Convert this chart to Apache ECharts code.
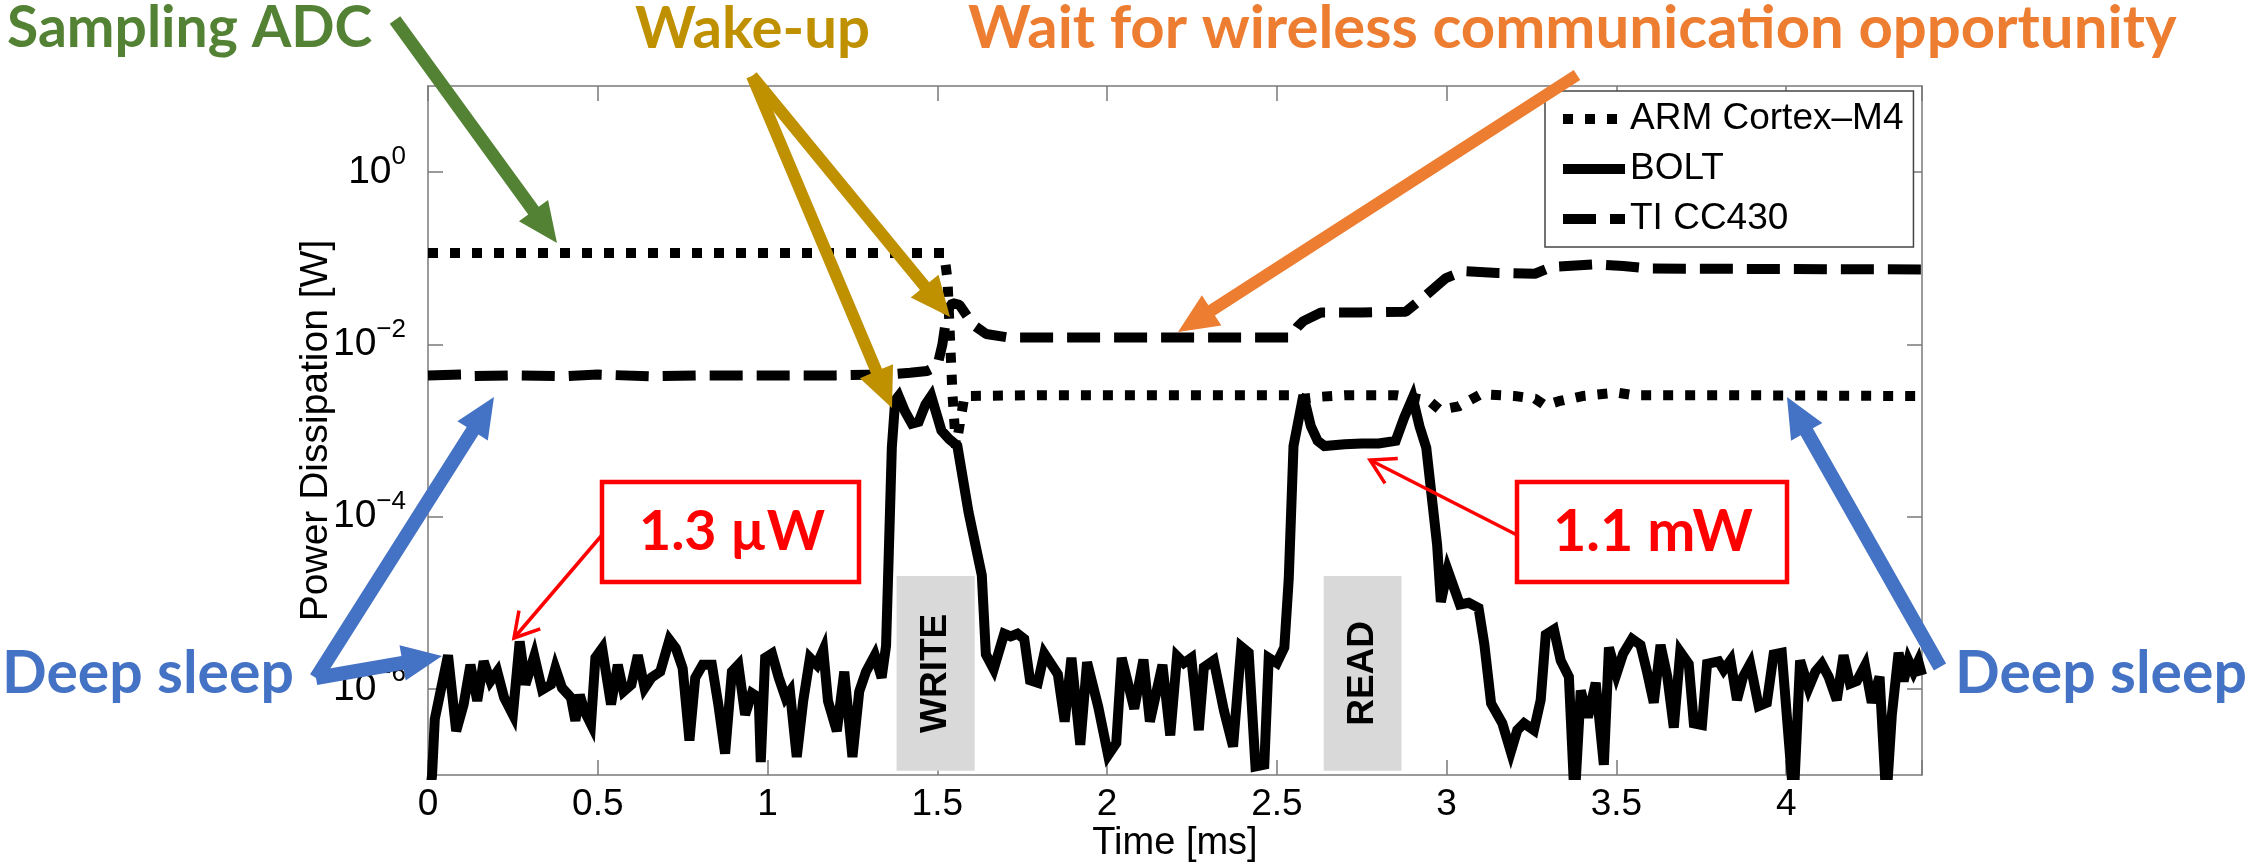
<!DOCTYPE html>
<html>
<head>
<meta charset="utf-8">
<script src="https://cdn.jsdelivr.net/npm/echarts@6/dist/echarts.min.js"></script>
<style>html,body{margin:0;padding:0;background:#fff}#c{width:2249px;height:868px}</style>
</head>
<body>
<div id="c"></div>
<script>
// ---------------- DATA (power as log10 of watts) ----------------
const seriesNames = ['ARM Cortex\u2013M4', 'BOLT', 'TI CC430'];

const armTime = [0, 1.52, 1.53, 1.537, 1.545, 1.555, 1.565, 1.58, 1.8, 2.0, 2.4, 2.55, 2.58, 2.62, 2.7, 2.85, 2.9, 2.95, 2.98, 3.036, 3.1, 3.2, 3.26, 3.29, 3.33, 3.4, 3.5, 3.55, 3.8, 4.4];
const armLog10W = [-0.94, -0.94, -1.25, -1.9, -2.6, -3.2, -2.95, -2.6, -2.59, -2.59, -2.59, -2.59, -2.63, -2.61, -2.59, -2.59, -2.62, -2.66, -2.76, -2.72, -2.58, -2.6, -2.63, -2.71, -2.66, -2.6, -2.56, -2.59, -2.59, -2.6];

const boltTime = [0.0, 0.012, 0.02, 0.039, 0.059, 0.083, 0.105, 0.125, 0.145, 0.164, 0.184, 0.204, 0.224, 0.25, 0.27, 0.287, 0.313, 0.336, 0.362, 0.375, 0.395, 0.421, 0.434, 0.447, 0.461, 0.48, 0.493, 0.513, 0.539, 0.559, 0.576, 0.599, 0.618, 0.638, 0.658, 0.684, 0.711, 0.73, 0.75, 0.77, 0.787, 0.809, 0.836, 0.855, 0.875, 0.895, 0.914, 0.934, 0.954, 0.974, 0.98, 0.993, 1.013, 1.033, 1.053, 1.066, 1.086, 1.105, 1.125, 1.145, 1.164, 1.178, 1.204, 1.226, 1.25, 1.27, 1.29, 1.316, 1.336, 1.349,
  1.358, 1.366, 1.376, 1.386, 1.405, 1.425, 1.445, 1.465, 1.482, 1.497, 1.512, 1.535, 1.559, 1.592, 1.631, 1.643, 1.666, 1.697, 1.716, 1.736, 1.756, 1.773, 1.796, 1.815, 1.855, 1.875, 1.895, 1.921, 1.941, 1.974, 2.003, 2.027, 2.043, 2.08, 2.107, 2.126, 2.163, 2.186, 2.206, 2.226, 2.248, 2.27, 2.285, 2.314, 2.344, 2.371, 2.395, 2.417, 2.437, 2.463, 2.476, 2.5, 2.522, 2.535, 2.549,
  2.578, 2.6, 2.62, 2.64, 2.7, 2.75, 2.8, 2.85, 2.875, 2.9, 2.92, 2.94, 2.972, 2.983, 3.003, 3.039, 3.065, 3.094, 3.111, 3.131, 3.164, 3.189, 3.208, 3.228, 3.257, 3.277, 3.292, 3.316, 3.336, 3.36, 3.377, 3.395, 3.416, 3.439, 3.463, 3.478, 3.5, 3.52, 3.546, 3.571, 3.59, 3.61, 3.63, 3.65, 3.669, 3.688, 3.713, 3.728, 3.752, 3.767, 3.801, 3.816, 3.836, 3.855, 3.873, 3.894, 3.919, 3.943, 3.963, 3.987, 4.022, 4.041, 4.066, 4.086, 4.105, 4.125, 4.149, 4.169, 4.188, 4.208, 4.232, 4.252, 4.275, 4.295, 4.311, 4.331, 4.346, 4.36, 4.375, 4.389, 4.4];
const boltLog10W = [-7.4, -7.0, -6.35, -5.99, -5.61, -6.49, -6.18, -5.72, -6.14, -5.68, -5.91, -5.8, -6.1, -6.3, -5.45, -5.95, -5.62, -6.01, -5.95, -5.76, -5.99, -6.1, -6.37, -6.07, -6.26, -6.41, -5.64, -5.53, -6.18, -5.72, -6.03, -5.95, -5.61, -5.99, -5.87, -5.8, -5.43, -5.53, -5.76, -6.6, -5.87, -5.72, -5.72, -6.18, -6.75, -5.8, -5.72, -6.3, -6.05, -6.1, -6.85, -5.64, -5.59, -5.87, -6.1, -6.03, -6.79, -6.14, -5.64, -5.72, -5.55, -6.14, -6.49, -5.8, -6.79, -6.03, -5.8, -5.61, -5.87, -5.5,
  -4.3, -3.2, -2.65, -2.6, -2.78, -2.92, -2.9, -2.7, -2.6, -2.8, -3.0, -3.1, -3.18, -3.95, -4.68, -5.6, -5.77, -5.36, -5.39, -5.36, -5.42, -5.9, -5.93, -5.59, -5.83, -6.38, -5.64, -6.65, -5.69, -6.21, -6.77, -6.63, -5.64, -6.23, -5.66, -6.38, -5.72, -6.54, -5.62, -5.7, -5.64, -6.48, -5.75, -5.67, -6.25, -6.67, -5.51, -5.58, -6.9, -6.88, -5.64, -5.7, -5.52, -4.72, -3.18,
  -2.59, -2.95, -3.12, -3.18, -3.16, -3.15, -3.15, -3.12, -2.85, -2.62, -2.95, -3.2, -4.33, -4.99, -4.62, -5.02, -5.0, -5.06, -5.48, -6.17, -6.4, -6.73, -6.48, -6.4, -6.48, -6.13, -5.37, -5.31, -5.67, -5.86, -7.3, -6.02, -6.33, -5.93, -6.88, -5.52, -5.83, -5.59, -5.42, -5.49, -5.8, -6.16, -5.49, -5.86, -6.45, -5.57, -5.71, -6.4, -6.42, -5.71, -5.68, -5.78, -5.67, -6.13, -5.86, -5.71, -6.2, -6.16, -5.6, -5.58, -7.3, -5.67, -5.99, -5.8, -5.71, -5.86, -6.13, -5.61, -5.94, -5.91, -5.73, -6.16, -5.86, -7.3, -6.31, -5.58, -5.91, -5.67, -5.8, -5.68, -5.84];

const ccTime = [0, 0.1, 0.12, 0.25, 0.4, 0.5, 0.65, 0.8, 1.0, 1.2, 1.35, 1.42, 1.47, 1.5, 1.515, 1.53, 1.545, 1.565, 1.605, 1.644, 1.71, 2.0, 2.3, 2.54, 2.56, 2.578, 2.63, 2.75, 2.88, 2.93, 2.998, 3.05, 3.15, 3.26, 3.31, 3.44, 3.52, 3.6, 4.4];
const ccLog10W = [-2.36, -2.35, -2.37, -2.36, -2.37, -2.35, -2.37, -2.36, -2.36, -2.36, -2.35, -2.33, -2.31, -2.25, -2.0, -1.6, -1.52, -1.54, -1.77, -1.88, -1.92, -1.92, -1.92, -1.92, -1.8, -1.73, -1.63, -1.63, -1.62, -1.46, -1.23, -1.15, -1.17, -1.18, -1.1, -1.07, -1.09, -1.12, -1.13];

const xTickLabels = [0, 0.5, 1, 1.5, 2, 2.5, 3, 3.5, 4];
const yTickExponents = [-6, -4, -2, 0];

const phaseNames = ['WRITE', 'READ'];
const phaseStart = [1.38, 2.638];
const phaseEnd = [1.61, 2.867];
const phaseLogTop = -4.69;
const phaseLogBottom = -6.95;

// ---------------- helpers ----------------
const zip = (a, b) => a.map((v, i) => [v, b[i]]);
const AX = "'Liberation Sans', Arial, Helvetica, sans-serif";
const ANN = "Lato, 'Open Sans', sans-serif";
const mctx = document.createElement('canvas').getContext('2d');
function fit(text, weight, family, target, base) {
  mctx.font = weight + ' ' + base + 'px ' + family;
  return base * target / mctx.measureText(text).width;
}
function arrowPts(x1, y1, x2, y2, w, hl, hw) {
  const dx = x2 - x1, dy = y2 - y1, L = Math.hypot(dx, dy), ux = dx / L, uy = dy / L, px = -uy, py = ux;
  const bx = x2 - ux * hl, by = y2 - uy * hl;
  return [[x1 + px * w / 2, y1 + py * w / 2], [bx + px * w / 2, by + py * w / 2], [bx + px * hw / 2, by + py * hw / 2], [x2, y2],
          [bx - px * hw / 2, by - py * hw / 2], [bx - px * w / 2, by - py * w / 2], [x1 - px * w / 2, y1 - py * w / 2]];
}
function thickArrow(x1, y1, x2, y2, color, w) {
  return { type: 'polygon', z: 100, shape: { points: arrowPts(x1, y1, x2, y2, w || 13, 40, 36) }, style: { fill: color } };
}
function thinArrow(x1, y1, x2, y2, color) {
  const dx = x2 - x1, dy = y2 - y1, L = Math.hypot(dx, dy), ux = dx / L, uy = dy / L, px = -uy, py = ux;
  const hl = 24, hw = 14;
  const bx = x2 - ux * hl, by = y2 - uy * hl;
  return [
    { type: 'line', z: 100, shape: { x1: x1, y1: y1, x2: x2, y2: y2 }, style: { stroke: color, lineWidth: 3.5 } },
    { type: 'polyline', z: 100, shape: { points: [[bx + px * hw, by + py * hw], [x2, y2], [bx - px * hw, by - py * hw]] }, style: { stroke: color, lineWidth: 3.5, fill: null } }
  ];
}
function annText(text, x, y, color, targetW, align) {
  const size = fit(text, 'bold', ANN, targetW, 50);
  return { type: 'text', z: 110, x: x, y: y, style: { text: text, fill: color, font: 'bold ' + size.toFixed(1) + 'px ' + ANN, align: align || 'left', verticalAlign: 'middle', textAlign: align || 'left', textVerticalAlign: 'middle' } };
}
const supMinus = '\u2212';
function yLabel(v) {
  if (yTickExponents.indexOf(Math.round(v)) < 0 || Math.abs(v - Math.round(v)) > 1e-6) return '';
  const e = Math.round(v);
  return '{b|10}{s|' + (e < 0 ? supMinus + (-e) : e) + '}';
}
function xLabel(v) {
  return xTickLabels.some(t => Math.abs(t - v) < 1e-6) ? String(v) : '';
}

const chart = echarts.init(document.getElementById('c'), null, { renderer: 'canvas', width: 2249, height: 868 });

const axisLineStyle = { color: '#7a7a7a', width: 1.5 };
const tickStyle = { show: true, inside: true, length: 15, lineStyle: { color: '#7a7a7a', width: 1.5 } };

const graphics = [
  thickArrow(395, 20, 557, 243, '#548235', 13),
  thickArrow(752, 76, 950, 317, '#BF9000', 12),
  thickArrow(752, 76, 892, 408, '#BF9000', 12),
  thickArrow(1577, 75, 1178, 332, '#ED7D31', 12),
  thickArrow(316, 678, 494, 397, '#4472C4', 14),
  thickArrow(316, 678, 442, 656, '#4472C4', 14),
  thickArrow(1940, 667, 1787, 397, '#4472C4', 14),
  ...thinArrow(602, 535, 514, 638, '#FF0000'),
  ...thinArrow(1517, 535, 1370, 460, '#FF0000'),
  { type: 'rect', z: 90, shape: { x: 602, y: 482, width: 257, height: 100 }, style: { fill: '#fff', stroke: '#FF0000', lineWidth: 4.5 } },
  { type: 'rect', z: 90, shape: { x: 1517, y: 482, width: 270, height: 100 }, style: { fill: '#fff', stroke: '#FF0000', lineWidth: 4.5 } },
  annText('1.3 \u00B5W', 732, 532, '#FF0000', 186, 'center'),
  annText('1.1 mW', 1653, 532, '#FF0000', 200, 'center'),
  annText('Sampling ADC', 7, 29, '#548235', 365),
  annText('Wake-up', 635, 29, '#BF9000', 235),
  annText('Wait for wireless communication opportunity', 968, 29, '#ED7D31', 1209),
  annText('Deep sleep', 2, 674, '#4472C4', 292),
  annText('Deep sleep', 1955, 674, '#4472C4', 292)
];

const phaseAreas = phaseNames.map((n, i) => [
  { name: n, coord: [phaseStart[i], phaseLogTop] },
  { coord: [phaseEnd[i], phaseLogBottom] }
]);

chart.setOption({
  animation: false,
  backgroundColor: '#fff',
  grid: { left: 428, top: 86, width: 1494, height: 696, show: false },
  legend: {
    orient: 'vertical', left: 1545, top: 91,
    backgroundColor: '#fff', borderColor: '#444', borderWidth: 1.5,
    padding: [8, 10, 8, 13], itemGap: 10, itemWidth: 62, itemHeight: 8,
    itemStyle: { opacity: 0 },
    lineStyle: { width: 10 },
    textStyle: { fontFamily: AX, fontSize: 37, color: '#000', lineHeight: 40 },
    data: seriesNames
  },
  xAxis: [
    {
      type: 'value', min: 0, max: 4.4, interval: 0.5, position: 'bottom',
      name: 'Time [ms]', nameLocation: 'middle', nameGap: 50, nameMoveOverlap: false,
      nameTextStyle: { fontFamily: AX, fontSize: 38, color: '#000' },
      axisLine: { show: true, onZero: false, lineStyle: axisLineStyle },
      axisTick: tickStyle,
      axisLabel: { formatter: xLabel, fontFamily: AX, fontSize: 37, color: '#000', margin: 11 },
      splitLine: { show: false }
    },
    {
      type: 'value', min: 0, max: 4.4, interval: 0.5, position: 'top',
      axisLine: { show: true, onZero: false, lineStyle: axisLineStyle },
      axisTick: tickStyle, axisLabel: { show: false }, splitLine: { show: false }
    }
  ],
  yAxis: [
    {
      type: 'value', min: -7, max: 1, interval: 1, position: 'left',
      name: 'Power Dissipation [W]', nameLocation: 'middle', nameGap: 92, nameMoveOverlap: false,
      nameTextStyle: { fontFamily: AX, fontSize: 39, color: '#000' },
      axisLine: { show: true, onZero: false, lineStyle: axisLineStyle },
      axisTick: Object.assign({}, tickStyle, { customValues: yTickExponents }),
      axisLabel: {
        customValues: yTickExponents,
        formatter: yLabel, margin: 22, color: '#000',
        rich: {
          b: { fontFamily: AX, fontSize: 39, color: '#000' },
          s: { fontFamily: AX, fontSize: 26, color: '#000', padding: [0, 0, 30, 0] }
        }
      },
      splitLine: { show: false }
    },
    {
      type: 'value', min: -7, max: 1, interval: 1, position: 'right',
      axisLine: { show: true, onZero: false, lineStyle: axisLineStyle },
      axisTick: Object.assign({}, tickStyle, { customValues: yTickExponents }),
      axisLabel: { show: false }, splitLine: { show: false }
    }
  ],
  series: [
    {
      name: seriesNames[0], type: 'line', data: zip(armTime, armLog10W), symbol: 'none', z: 5,
      lineStyle: { color: '#000', width: 10, type: [10, 12], cap: 'butt' }, itemStyle: { color: '#000' }
    },
    {
      name: seriesNames[1], type: 'line', data: zip(boltTime, boltLog10W), symbol: 'none', z: 6,
      lineStyle: { color: '#000', width: 10, join: 'miter', miterLimit: 4 }, itemStyle: { color: '#000' },
      markArea: {
        silent: true, z: 1,
        itemStyle: { color: '#D9D9D9' },
        label: { show: true, position: 'inside', rotate: 90, fontFamily: AX, fontWeight: 'bold', fontSize: 37, color: '#000' },
        data: phaseAreas
      }
    },
    {
      name: seriesNames[2], type: 'line', data: zip(ccTime, ccLog10W), symbol: 'none', z: 4,
      lineStyle: { color: '#000', width: 10, type: [33, 14], cap: 'butt' }, itemStyle: { color: '#000' }
    }
  ],
  graphic: graphics
});
</script>
</body>
</html>
